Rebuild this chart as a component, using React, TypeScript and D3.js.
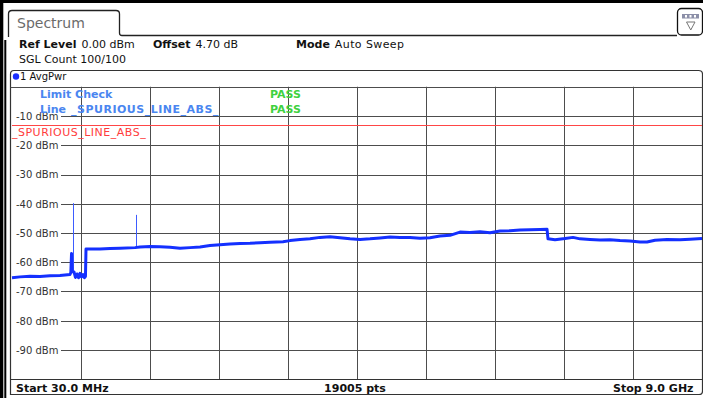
import React from "react";
import * as d3 from "d3";

// ---- data ----
const freqMHz = [30, 134, 264, 394, 524, 654, 784, 795, 804, 812, 836, 855, 875, 895, 914, 934, 953, 972, 985, 992, 1174, 1304, 1434, 1629, 1694, 1824, 1954, 2084, 2214, 2344, 2474, 2604, 2734, 2864, 2994, 3124, 3254, 3384, 3553, 3644, 3774, 3904, 4034, 4164, 4294, 4424, 4554, 4684, 4814, 4944, 5074, 5204, 5334, 5464, 5594, 5724, 5854, 5984, 6114, 6244, 6374, 6504, 6634, 6764, 6894, 6985, 6998, 7089, 7219, 7323, 7414, 7544, 7674, 7804, 7934, 8064, 8194, 8285, 8389, 8545, 8714, 8844, 9000];
const levelDbm = [-65.3, -65.0, -64.8, -64.9, -64.6, -64.5, -64.2, -63.5, -57, -63.2, -63.3, -65.2, -64.0, -65.3, -63.8, -65.0, -64.2, -65.3, -64.8, -55.5, -55.5, -55.3, -55.2, -55.0, -54.8, -54.6, -54.7, -54.9, -55.2, -55.0, -54.8, -54.3, -54.0, -53.8, -53.6, -53.5, -53.3, -53.2, -53.0, -52.6, -52.2, -52.0, -51.5, -51.3, -51.6, -52.0, -52.2, -52.0, -51.7, -51.4, -51.5, -51.5, -51.8, -51.6, -51.0, -50.8, -49.7, -49.8, -49.6, -49.9, -49.3, -49.2, -49.0, -48.9, -48.8, -48.7, -52.0, -52.3, -51.9, -51.5, -52.0, -52.2, -52.4, -52.3, -52.6, -52.7, -53.1, -53.1, -52.5, -52.2, -52.3, -52.1, -51.9];
const spikeFreqMHz = [819, 1638];
const spikeBaseDbm = [-64, -55];
const spikePeakDbm = [-39.8, -43.8];
const yTicks = [-10, -20, -30, -40, -50, -60, -70, -80, -90];
const xDivisions = [1, 2, 3, 4, 5, 6, 7, 8, 9];
const limitDbm = -13;
const limitName = "_SPURIOUS_LINE_ABS_";
const startMHz = 30;
const stopMHz = 9000;
const refLevel = 0;
const bottomLevel = -100;

const W = 703;
const H = 398;
const PL = 12, PR = 702, PT = 86.75, PB = 379.25;

export default function App() {
  const x = d3.scaleLinear().domain([startMHz, stopMHz]).range([PL, PR]);
  const y = d3.scaleLinear().domain([refLevel, bottomLevel]).range([PT, PB]);
  const xDiv = d3.scaleLinear().domain([0, 10]).range([PL, PR]);
  const pts = freqMHz.map((f, i) => [f, levelDbm[i]] as [number, number]);
  const line = d3.line<[number, number]>().x(d => x(d[0])).y(d => y(d[1]));
  const font = "'DejaVu Sans', Verdana, sans-serif";
  const crisp = (v: number) => Math.round(v) + 0.5;
  const gridCol = "#4d4d4d";

  return (
    <svg width={W} height={H} style={{ position: "absolute", left: 0, top: 0, background: "#fff" }} fontFamily={font}>
      <rect x={0} y={0} width={W} height={H} fill="#fff" />
      {/* outer black borders */}
      <rect x={0} y={0} width={W} height={3} fill="#000" />
      <rect x={0} y={0} width={3.3} height={H} fill="#000" />
      <rect x={4.3} y={40} width={2} height={H - 40} fill="#000" />

      {/* tab */}
      <path d="M8.5,37 L8.5,14 Q8.5,10.5 12,10.5 L116,10.5 Q119.5,10.5 119.5,14 L119.5,33 Q119.5,35.5 122,35.5 L677,35.5" fill="none" stroke="#222" strokeWidth={1.3} />
      <text x={17} y={28.3} fontSize={14} fill="#6b6b6b">Spectrum</text>

      {/* icon */}
      <rect x={677.5} y={8.5} width={25} height={26.5} rx={4} fill="#fff" stroke="#111" strokeWidth={1.3} />
      <rect x={682} y={14} width={17} height={4.5} fill="#8c8fa8" />
      <rect x={685} y={15} width={2} height={2.5} fill="#fff" />
      <rect x={689.5} y={15} width={2} height={2.5} fill="#fff" />
      <rect x={694} y={15} width={2} height={2.5} fill="#fff" />
      <path d="M686.5,22 L695,22 L690.75,30 Z" fill="none" stroke="#777" strokeWidth={1} />

      {/* info header */}
      <text x={19} y={47.5} fontSize={11} fill="#111">
        <tspan fontWeight="bold">Ref Level</tspan>
        <tspan dx={5}>0.00 dBm</tspan>
      </text>
      <text x={153} y={47.5} fontSize={11} fill="#111">
        <tspan fontWeight="bold">Offset</tspan>
        <tspan dx={5}>4.70 dB</tspan>
      </text>
      <text x={296} y={47.5} fontSize={11} fill="#111">
        <tspan fontWeight="bold">Mode</tspan>
        <tspan dx={5} letterSpacing={0.4}>Auto Sweep</tspan>
      </text>
      <text x={19} y={63.3} fontSize={11} fill="#111">SGL Count 100/100</text>

      {/* panel frame */}
      <path d={`M10.5,394.5 L10.5,74 Q10.5,70.5 14,70.5 L698.5,70.5 Q702.5,70.5 702.5,74 L702.5,391 Q702.5,394.5 699,394.5 Z`} fill="none" stroke="#333" strokeWidth={1.2} />
      <circle cx={16} cy={76.5} r={3.2} fill="#1a2eff" />
      <text x={20} y={80} fontSize={10} fill="#111">1 AvgPwr</text>

      {/* grid */}
      <line x1={10.5} x2={702.5} y1={crisp(PT)} y2={crisp(PT)} stroke={gridCol} strokeWidth={1} />
      {xDivisions.map(d => (
        <line key={d} x1={crisp(xDiv(d))} x2={crisp(xDiv(d))} y1={PT} y2={PB} stroke={gridCol} strokeWidth={1} />
      ))}
      {yTicks.map(t => (
        <g key={t}>
          <line x1={61} x2={702} y1={crisp(y(t))} y2={crisp(y(t))} stroke={gridCol} strokeWidth={1} />
          <text x={16} y={y(t) + 3.8} fontSize={10} fill="#333">{`${t} dBm`}</text>
        </g>
      ))}

      {/* limit line */}
      <line x1={PL} x2={PR} y1={crisp(y(limitDbm))} y2={crisp(y(limitDbm))} stroke="#ff4646" strokeWidth={1} />
      <text x={12} y={136} fontSize={11} letterSpacing={0.5} fill="#ff3c3c">{limitName}</text>

      {/* limit check text */}
      <text x={40} y={98} fontSize={11} fontWeight="bold" fill="#4a86f0">Limit Check</text>
      <text x={40} y={113} fontSize={11} fontWeight="bold" fill="#4a86f0">Line</text>
      <text x={71} y={113} fontSize={11} fontWeight="bold" letterSpacing={0.5} fill="#4a86f0">{limitName}</text>
      <text x={270} y={98} fontSize={11} fontWeight="bold" fill="#3fd13f">PASS</text>
      <text x={270} y={113} fontSize={11} fontWeight="bold" fill="#3fd13f">PASS</text>

      {/* trace */}
      {spikeFreqMHz.map((f, i) => (
        <line key={f} x1={crisp(x(f))} x2={crisp(x(f))} y1={y(spikeBaseDbm[i])} y2={y(spikePeakDbm[i])} stroke="#3d5cff" strokeWidth={1} />
      ))}
      <path d={line(pts) || ""} fill="none" stroke="#1430ff" strokeWidth={3} strokeLinejoin="round" />

      {/* footer */}
      <line x1={10.5} x2={702.5} y1={crisp(PB)} y2={crisp(PB)} stroke="#333" strokeWidth={1} />
      <text x={16} y={391.5} fontSize={11} fontWeight="bold" fill="#111">Start 30.0 MHz</text>
      <text x={355} y={391.5} fontSize={11} fontWeight="bold" fill="#111" textAnchor="middle">19005 pts</text>
      <text x={693.5} y={391.5} fontSize={11} fontWeight="bold" fill="#111" textAnchor="end">Stop 9.0 GHz</text>
    </svg>
  );
}
